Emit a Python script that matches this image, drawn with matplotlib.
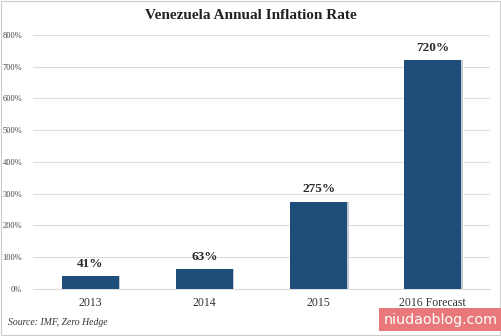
import matplotlib
matplotlib.use('Agg')
import matplotlib.pyplot as plt

years = ['2013', '2014', '2015', '2016 Forecast']
inflation = [41, 63, 275, 720]
y_ticks = [0, 100, 200, 300, 400, 500, 600, 700, 800]

bar_color = '#1f4d7a'
serif = ['Liberation Serif', 'DejaVu Serif']

fig = plt.figure(figsize=(5.01, 3.36), dpi=100)
fig.patch.set_facecolor('white')
ax = fig.add_axes([0.066, 0.140, 0.912, 0.756])

x = list(range(len(years)))
# faint shadow to the right of each bar
ax.bar([i + 0.012 for i in x], inflation, width=0.5, color='#c3cad2', zorder=2)
bars = ax.bar(x, inflation, width=0.5, color=bar_color, zorder=3)

for rect, v in zip(bars, inflation):
    ax.text(rect.get_x() + rect.get_width() / 2, v + 20, f'{v}%',
            ha='center', va='bottom', fontsize=9.5, fontweight='bold',
            family=serif, color='#2a2a2a')

ax.set_xlim(-0.5, 3.5)
ax.set_ylim(0, 800)
ax.set_yticks(y_ticks)
ax.set_yticklabels([f'{t}%' for t in y_ticks], family=serif, fontsize=6, color='#444444')
ax.set_xticks(x)
ax.set_xticklabels(years, family=serif, fontsize=8.5, color='#333333')
ax.tick_params(axis='both', length=0)
ax.tick_params(axis='x', pad=6)
ax.tick_params(axis='y', pad=8)

ax.grid(axis='y', color='#dcdcdc', linewidth=0.8, zorder=0)
for side in ['top', 'right', 'left']:
    ax.spines[side].set_visible(False)
ax.spines['bottom'].set_color('#dcdcdc')

fig.text(0.5, 0.955, 'Venezuela Annual Inflation Rate', ha='center', va='center',
         family=serif, fontsize=11, fontweight='bold', color='#222222')
fig.text(0.016, 0.04, 'Source: IMF, Zero Hedge', ha='left', va='center',
         family=serif, fontsize=7, style='italic', color='#333333')
fig.text(0.879, 0.049, 'niudaoblog.com', ha='center', va='center',
         fontsize=10.3, color='white', family='DejaVu Sans',
         bbox=dict(boxstyle='square,pad=0.3', facecolor='#e8787a', edgecolor='none'))

# thin frame around the whole image
fig.add_artist(plt.Rectangle((0.002, 0.003), 0.996, 0.994, transform=fig.transFigure,
                             fill=False, edgecolor='#cccccc', linewidth=0.8))

fig.savefig('out.png', dpi=100, facecolor='white')
